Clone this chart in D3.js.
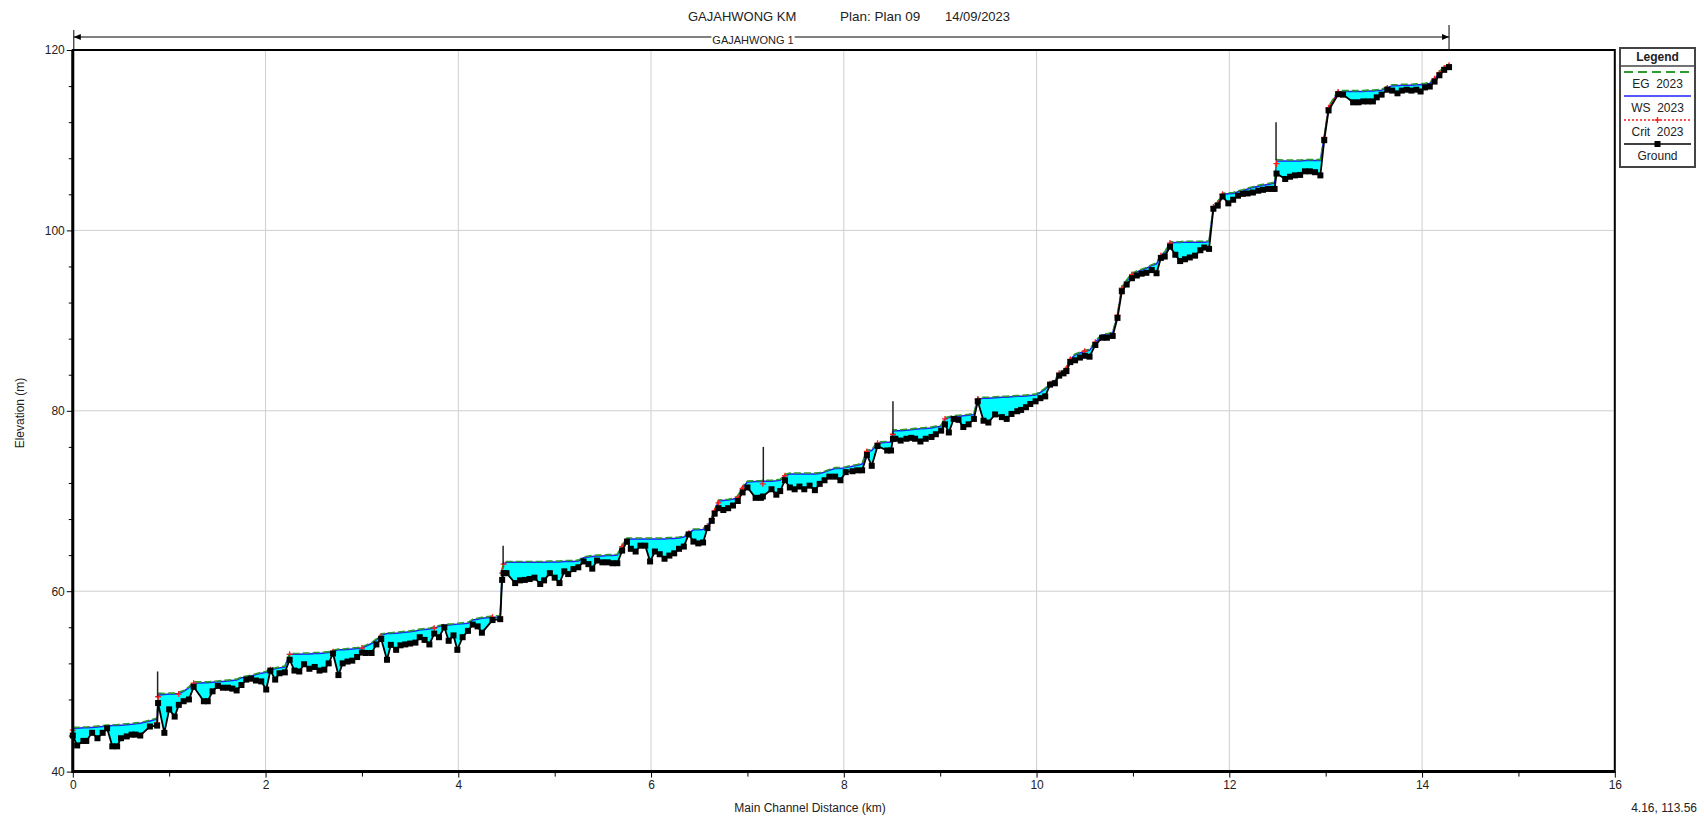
<!DOCTYPE html>
<html>
<head>
<meta charset="utf-8">
<script src="https://cdn.jsdelivr.net/npm/d3@7"></script>
<style>
  html, body { margin: 0; padding: 0; background: #fff; }
  svg { display: block; font-family: "Liberation Sans", Arial, sans-serif; }
</style>
</head>
<body>
<svg id="chart" width="1704" height="817"></svg>
<script>
// ---- Profile data: main channel distance (km) and elevations (m) ----
const station = [
  0.00,0.045,0.11,0.14,0.20,0.256,0.31,0.356,0.41,0.46,
  0.50,0.56,0.61,0.65,0.70,0.80,0.875,0.885,0.95,1.00,
  1.057,1.10,1.15,1.205,1.254,1.36,1.40,1.45,1.505,1.557,
  1.61,1.655,1.70,1.75,1.80,1.85,1.90,1.955,2.007,2.05,
  2.10,2.145,2.20,2.25,2.30,2.35,2.40,2.455,2.51,2.56,
  2.61,2.655,2.70,2.756,2.80,2.85,2.90,2.95,3.00,3.04,
  3.10,3.15,3.20,3.26,3.30,3.355,3.40,3.45,3.50,3.555,
  3.60,3.65,3.70,3.75,3.80,3.855,3.90,3.95,3.99,4.045,
  4.10,4.15,4.20,4.245,4.355,4.435,4.455,4.47,4.50,4.59,
  4.64,4.69,4.74,4.79,4.85,4.89,4.95,5.00,5.05,5.10,
  5.14,5.195,5.245,5.30,5.35,5.39,5.44,5.495,5.55,5.60,
  5.65,5.70,5.75,5.79,5.84,5.89,5.94,5.99,6.04,6.09,
  6.14,6.19,6.24,6.29,6.34,6.39,6.44,6.49,6.54,6.585,
  6.63,6.66,6.70,6.75,6.80,6.85,6.90,6.95,7.00,7.085,
  7.14,7.16,7.25,7.30,7.34,7.39,7.44,7.49,7.54,7.59,
  7.645,7.70,7.75,7.80,7.85,7.91,7.965,8.02,8.09,8.14,
  8.19,8.24,8.29,8.35,8.45,8.49,8.51,8.535,8.59,8.65,
  8.70,8.74,8.795,8.85,8.91,8.955,9.01,9.05,9.09,9.14,
  9.19,9.24,9.295,9.35,9.39,9.45,9.50,9.57,9.64,9.69,
  9.74,9.80,9.84,9.89,9.935,9.99,10.04,10.09,10.14,10.19,
  10.235,10.28,10.31,10.35,10.40,10.45,10.50,10.55,10.61,10.68,
  10.73,10.79,10.84,10.885,10.935,10.99,11.04,11.09,11.14,11.195,
  11.245,11.29,11.33,11.385,11.44,11.49,11.54,11.59,11.645,11.70,
  11.74,11.79,11.835,11.88,11.93,11.99,12.04,12.09,12.14,12.19,
  12.245,12.30,12.35,12.40,12.45,12.47,12.49,12.58,12.63,12.68,
  12.735,12.785,12.835,12.89,12.945,12.985,13.03,13.13,13.18,13.285,
  13.34,13.39,13.44,13.49,13.53,13.58,13.64,13.69,13.745,13.79,
  13.84,13.89,13.94,13.985,14.03,14.08,14.13,14.18,14.23,14.28
];

const ground = [
  44.0,42.9,43.4,43.4,44.3,43.7,44.3,44.8,42.8,42.8,
  43.7,43.9,44.1,44.1,44.0,45.0,45.1,47.6,44.3,46.9,
  46.1,47.4,47.8,48.0,49.4,47.8,47.8,48.9,49.5,49.3,
  49.3,49.2,49.0,49.6,50.2,50.3,50.1,50.0,49.1,51.2,
  50.2,50.9,51.0,52.4,51.2,51.1,51.9,51.4,51.6,51.2,
  51.3,52.0,53.1,50.7,52.0,52.2,52.3,52.7,53.2,53.15,
  53.15,54.1,54.7,52.4,54.05,53.5,54.0,54.1,54.2,54.3,
  54.9,54.6,54.1,55.3,54.9,56.0,54.5,55.1,53.5,54.9,
  55.6,56.3,56.1,55.4,56.8,56.9,61.25,62.0,62.0,60.9,
  61.2,61.25,61.35,61.5,60.8,61.2,62.0,61.5,60.9,62.2,
  61.9,62.45,62.65,63.3,63.0,62.5,63.4,63.2,63.2,63.1,
  63.1,64.5,65.5,64.7,64.4,65.05,65.05,63.3,64.4,64.1,
  63.6,63.95,64.2,64.7,64.95,66.3,65.5,65.3,65.4,67.0,
  67.8,68.6,69.2,69.0,69.2,69.5,70.0,70.95,71.5,70.35,
  70.35,70.5,71.3,70.7,71.1,72.3,71.5,71.3,71.6,71.3,
  71.7,71.2,71.9,72.3,72.7,72.7,72.3,73.2,73.3,73.4,
  73.4,75.1,73.9,76.1,75.6,75.6,76.9,76.9,76.7,76.9,
  77.0,76.9,76.6,76.9,77.1,77.4,77.8,78.5,77.6,79.1,
  79.0,78.2,78.5,79.1,81.05,78.9,78.7,79.6,79.3,79.1,
  79.65,79.95,80.1,80.4,80.75,81.05,81.4,81.6,82.9,83.05,
  83.9,84.15,84.4,85.4,85.6,85.9,86.1,86.0,87.3,88.1,
  88.1,88.3,90.3,93.25,94.0,94.7,95.0,95.2,95.3,95.6,
  95.25,96.95,97.1,98.2,97.3,96.6,96.8,97.0,97.2,97.8,
  98.1,97.95,102.4,102.75,103.75,103.0,103.4,103.85,104.05,104.1,
  104.2,104.4,104.5,104.6,104.6,104.6,106.3,105.7,105.95,106.1,
  106.15,106.55,106.55,106.45,106.1,110.0,113.3,115.1,115.05,114.2,
  114.2,114.3,114.3,114.3,114.75,115.05,115.6,115.5,115.2,115.5,
  115.6,115.5,115.6,115.4,115.85,115.95,116.5,117.2,117.8,118.1
];

const ws = [
  44.8,44.8,44.85,44.85,44.9,44.95,45.0,45.05,45.1,45.1,
  45.15,45.2,45.25,45.3,45.35,45.6,45.85,48.5,48.55,48.6,
  48.6,48.65,48.9,49.3,49.8,49.85,49.85,49.9,49.95,50.0,
  50.05,50.1,50.15,50.4,50.5,50.6,50.75,50.9,51.0,51.3,
  51.4,51.5,51.6,53.0,53.0,53.0,53.05,53.05,53.1,53.1,
  53.15,53.2,53.3,53.5,53.5,53.55,53.6,53.65,53.7,53.9,
  54.2,54.6,55.1,55.3,55.3,55.35,55.4,55.45,55.5,55.6,
  55.7,55.75,55.8,55.9,56.1,56.2,56.25,56.3,56.35,56.4,
  56.45,56.8,56.9,57.0,57.1,57.15,62.3,63.0,63.2,63.2,
  63.2,63.2,63.2,63.2,63.2,63.2,63.25,63.25,63.25,63.3,
  63.3,63.3,63.35,63.7,63.8,63.85,63.9,63.9,63.95,63.95,
  64.0,64.95,65.8,65.8,65.8,65.8,65.8,65.8,65.8,65.8,
  65.8,65.85,65.85,65.9,66.0,66.4,66.8,66.8,66.85,67.2,
  68.0,68.9,70.0,70.05,70.1,70.2,70.4,71.5,72.1,72.15,
  72.15,72.2,72.2,72.25,72.3,72.8,73.0,73.0,73.0,73.0,
  73.0,73.0,73.05,73.2,73.4,73.6,73.6,73.7,73.85,73.95,
  74.1,75.5,75.6,76.4,76.5,76.5,77.7,77.8,77.8,77.85,
  77.9,77.95,78.0,78.05,78.1,78.2,78.3,79.1,79.25,79.35,
  79.4,79.45,79.5,79.6,81.3,81.4,81.4,81.45,81.5,81.5,
  81.55,81.6,81.6,81.65,81.7,81.75,82.05,82.4,83.0,83.3,
  84.15,84.4,84.7,85.7,86.2,86.4,86.6,86.7,87.6,88.4,
  88.45,88.6,90.6,93.6,94.4,95.1,95.4,95.6,95.8,96.1,
  96.3,97.2,97.5,98.6,98.65,98.65,98.7,98.7,98.7,98.7,
  98.7,98.75,102.6,103.0,104.0,104.05,104.1,104.3,104.4,104.6,
  104.75,104.9,105.0,105.1,105.2,105.25,107.7,107.7,107.7,107.7,
  107.7,107.75,107.75,107.75,107.75,110.3,113.6,115.35,115.4,115.4,
  115.4,115.4,115.45,115.45,115.5,115.55,115.8,116.05,116.05,116.1,
  116.1,116.1,116.15,116.15,116.2,116.3,116.8,117.45,118.0,118.3
];

const eg = [
  44.9,44.9,44.95,44.95,45.0,45.05,45.1,45.15,45.2,45.2,
  45.25,45.3,45.35,45.4,45.45,45.7,45.95,48.7,48.65,48.7,
  48.7,48.8,49.0,49.4,49.95,49.95,49.95,50.0,50.05,50.1,
  50.15,50.2,50.25,50.5,50.6,50.7,50.85,51.0,51.1,51.45,
  51.5,51.6,51.7,53.15,53.1,53.1,53.15,53.15,53.2,53.2,
  53.25,53.3,53.45,53.6,53.6,53.65,53.7,53.75,53.85,54.0,
  54.3,54.7,55.25,55.4,55.4,55.45,55.5,55.55,55.6,55.7,
  55.8,55.85,55.9,56.05,56.2,56.3,56.35,56.4,56.45,56.5,
  56.55,56.9,57.0,57.1,57.25,57.3,62.5,63.2,63.3,63.3,
  63.3,63.3,63.3,63.3,63.3,63.3,63.35,63.35,63.35,63.4,
  63.4,63.4,63.45,63.8,63.9,63.95,64.0,64.0,64.05,64.05,
  64.1,65.1,65.9,65.9,65.9,65.9,65.9,65.9,65.9,65.9,
  65.9,65.95,65.95,66.0,66.1,66.55,66.9,66.9,66.95,67.35,
  68.15,69.05,70.1,70.15,70.2,70.3,70.55,71.65,72.2,72.25,
  72.25,72.3,72.3,72.35,72.4,72.95,73.1,73.1,73.1,73.1,
  73.1,73.1,73.15,73.3,73.5,73.7,73.7,73.8,73.95,74.05,
  74.2,75.65,75.7,76.55,76.6,76.6,77.85,77.9,77.9,77.95,
  78.0,78.05,78.1,78.15,78.2,78.3,78.4,79.25,79.35,79.45,
  79.5,79.55,79.6,79.7,81.45,81.5,81.5,81.55,81.6,81.6,
  81.65,81.7,81.7,81.75,81.8,81.85,82.15,82.5,83.15,83.4,
  84.3,84.5,84.85,85.85,86.3,86.5,86.75,86.8,87.75,88.5,
  88.55,88.7,90.75,93.75,94.5,95.25,95.5,95.7,95.9,96.2,
  96.4,97.35,97.6,98.75,98.75,98.75,98.8,98.8,98.8,98.8,
  98.8,98.85,102.75,103.15,104.15,104.15,104.2,104.4,104.5,104.7,
  104.85,105.0,105.1,105.2,105.3,105.35,107.85,107.8,107.8,107.8,
  107.8,107.85,107.85,107.85,107.85,110.45,113.75,115.5,115.5,115.5,
  115.5,115.5,115.55,115.55,115.6,115.65,115.95,116.15,116.15,116.2,
  116.2,116.2,116.25,116.25,116.3,116.4,116.95,117.6,118.15,118.45
];

// critical depth elevation, only where flow passes through critical
const crit = [
  44.6,null,null,null,null,null,null,null,null,null,
  null,null,null,null,null,null,45.4,48.3,null,null,
  null,48.6,null,null,49.8,null,null,null,null,null,
  null,null,null,null,null,null,null,null,null,51.3,
  null,null,null,53.0,null,null,null,null,null,null,
  null,null,53.3,null,null,null,null,null,53.7,null,
  null,null,55.0,null,null,null,null,null,null,null,
  null,null,null,55.9,null,null,null,null,null,null,
  null,null,null,null,57.1,null,62.0,63.0,null,null,
  null,null,null,null,null,null,null,null,null,null,
  null,null,null,null,null,null,null,null,null,null,
  null,64.95,null,null,null,null,null,null,null,null,
  null,null,null,null,null,66.4,null,null,null,67.2,
  68.0,68.9,69.8,null,null,null,70.4,71.4,null,null,
  null,71.9,null,null,null,72.8,null,null,null,null,
  null,null,null,null,null,null,null,null,null,null,
  null,75.5,null,76.4,null,null,77.4,null,null,null,
  null,null,null,null,null,null,null,79.1,null,null,
  null,null,null,null,81.3,null,null,null,null,null,
  null,null,null,null,null,null,null,null,83.0,null,
  84.15,null,84.7,85.7,null,null,86.6,null,87.6,null,
  null,null,90.6,93.6,null,95.1,null,null,null,null,
  null,97.2,null,98.6,null,null,null,null,null,null,
  null,null,102.6,103.0,104.0,null,null,null,null,null,
  null,null,null,null,null,null,107.4,null,null,null,
  null,null,null,null,null,110.3,113.6,115.35,null,null,
  null,null,null,null,null,null,115.8,null,null,null,
  null,null,null,null,null,null,116.8,117.45,118.0,118.3
];

// bridge decks: station, low chord, high chord
const deckStation = [0.88, 4.465, 7.165, 8.51, 12.485];
const deckLow     = [48.3, 63.0, 72.1, 77.4, 107.75];
const deckHigh    = [51.1, 65.05, 76.0, 81.05, 112.0];

// axis ticks
const xMajor = [0, 2, 4, 6, 8, 10, 12, 14, 16];
const xMinor = [1, 3, 5, 7, 9, 11, 13, 15];
const yMajor = [40, 60, 80, 100, 120];
const yMinor = [44, 48, 52, 56, 64, 68, 72, 76, 84, 88, 92, 96, 104, 108, 112, 116];

const reachStart = 0, reachEnd = 14.28;
const legendItems = ["EG  2023", "WS  2023", "Crit  2023", "Ground"];

// ---- layout ----
const plot = { left: 72.8, right: 1614.8, top: 50, bottom: 771.6 };
const x = d3.scaleLinear().domain([0, 16]).range([plot.left, plot.right]);
const y = d3.scaleLinear().domain([40, 120]).range([plot.bottom, plot.top]);
const svg = d3.select("#chart");

const C = { eg: "#2f9a2f", ws: "#1f1fff", crit: "#ff1a1a", ground: "#000", fill: "#00ffff", grid: "#cfcfcf", text: "#222" };

// grid
svg.append("g").selectAll("line").data(xMajor.filter(d => d > 0 && d < 16)).join("line")
  .attr("x1", d => x(d)).attr("x2", d => x(d))
  .attr("y1", plot.top).attr("y2", plot.bottom)
  .attr("stroke", C.grid).attr("stroke-width", 1);
svg.append("g").selectAll("line").data(yMajor.filter(d => d > 40 && d < 120)).join("line")
  .attr("x1", plot.left).attr("x2", plot.right)
  .attr("y1", d => y(d)).attr("y2", d => y(d))
  .attr("stroke", C.grid).attr("stroke-width", 1);

// axes
function styleAxis(g) {
  g.select(".domain").remove();
  g.selectAll(".tick line").attr("stroke", "#000");
  g.selectAll(".tick text").attr("fill", C.text).style("font-size", "12px")
    .style("font-family", '"Liberation Sans", Arial, sans-serif');
}
svg.append("g").attr("transform", `translate(0,${plot.bottom})`)
  .call(d3.axisBottom(x).tickValues(xMajor).tickSize(6).tickPadding(3).tickFormat(d3.format("d")))
  .call(styleAxis);
svg.append("g").attr("transform", `translate(0,${plot.bottom})`)
  .call(d3.axisBottom(x).tickValues(xMinor).tickSize(5).tickFormat(""))
  .call(styleAxis);
svg.append("g").attr("transform", `translate(${plot.left},0)`)
  .call(d3.axisLeft(y).tickValues(yMajor).tickSize(6).tickPadding(2).tickFormat(d3.format("d")))
  .call(styleAxis);
svg.append("g").attr("transform", `translate(${plot.left},0)`)
  .call(d3.axisLeft(y).tickValues(yMinor).tickSize(4).tickFormat(""))
  .call(styleAxis);

// profile
const rows = station.map((s, i) => ({ s, g: ground[i], w: ws[i], e: eg[i], c: crit[i] }));

svg.append("path").datum(rows)
  .attr("d", d3.area().x(d => x(d.s)).y0(d => y(d.g)).y1(d => y(d.w)))
  .attr("fill", C.fill);

svg.append("path").datum(rows)
  .attr("d", d3.line().x(d => x(d.s)).y(d => y(d.w)))
  .attr("fill", "none").attr("stroke", C.ws).attr("stroke-width", 1.5);

svg.append("path").datum(rows)
  .attr("d", d3.line().x(d => x(d.s)).y(d => y(d.e)))
  .attr("fill", "none").attr("stroke", C.eg).attr("stroke-width", 1.6)
  .attr("stroke-dasharray", "7,3");

svg.append("path").datum(rows)
  .attr("d", d3.line().defined(d => d.c != null).x(d => x(d.s)).y(d => y(d.c)))
  .attr("fill", "none").attr("stroke", C.crit).attr("stroke-width", 1.3)
  .attr("stroke-dasharray", "2,2");

const critPts = rows.filter(d => d.c != null);
svg.append("g").selectAll("path").data(critPts).join("path")
  .attr("d", d => `M${x(d.s) - 3},${y(d.c)}h6M${x(d.s)},${y(d.c) - 3}v6`)
  .attr("stroke", C.crit).attr("stroke-width", 1.3);

// bridge decks
svg.append("g").selectAll("line").data(deckStation).join("line")
  .attr("x1", d => x(d)).attr("x2", d => x(d))
  .attr("y1", (d, i) => y(deckLow[i])).attr("y2", (d, i) => y(deckHigh[i]))
  .attr("stroke", "#222").attr("stroke-width", 1.5);

svg.append("path").datum(rows)
  .attr("d", d3.line().x(d => x(d.s)).y(d => y(d.g)))
  .attr("fill", "none").attr("stroke", C.ground).attr("stroke-width", 1.8);

svg.append("g").selectAll("rect").data(rows).join("rect")
  .attr("x", d => x(d.s) - 3).attr("y", d => y(d.g) - 3)
  .attr("width", 6).attr("height", 6).attr("fill", C.ground);

// frame
svg.append("rect").attr("x", plot.left).attr("y", plot.top)
  .attr("width", plot.right - plot.left).attr("height", plot.bottom - plot.top)
  .attr("fill", "none").attr("stroke", "#000").attr("stroke-width", 2);
svg.append("line").attr("x1", plot.left).attr("x2", plot.left).attr("y1", plot.top).attr("y2", plot.bottom + 1.5)
  .attr("stroke", "#000").attr("stroke-width", 3);
svg.append("line").attr("x1", plot.left).attr("x2", plot.right).attr("y1", plot.bottom).attr("y2", plot.bottom)
  .attr("stroke", "#000").attr("stroke-width", 3);

// title
const title = svg.append("g").attr("fill", C.text).style("font-size", "13px");
title.append("text").attr("x", 688).attr("y", 21).text("GAJAHWONG KM");
title.append("text").attr("x", 840).attr("y", 21).style("font-size", "13.5px").text("Plan: Plan 09");
title.append("text").attr("x", 945).attr("y", 21).text("14/09/2023");

// reach extent
const ry = 37, rx0 = x(reachStart) + 1, rx1 = x(reachEnd);
const reach = svg.append("g");
reach.append("line").attr("x1", rx0).attr("x2", rx1).attr("y1", ry).attr("y2", ry)
  .attr("stroke", "#000").attr("stroke-width", 1);
reach.append("path").attr("d", `M${rx0},${ry}l7,-3v6z`).attr("fill", "#000");
reach.append("path").attr("d", `M${rx1},${ry}l-7,-3v6z`).attr("fill", "#000");
reach.append("line").attr("x1", rx0).attr("x2", rx0).attr("y1", 30).attr("y2", plot.top)
  .attr("stroke", "#000").attr("stroke-width", 1);
reach.append("line").attr("x1", rx1).attr("x2", rx1).attr("y1", 25).attr("y2", plot.top)
  .attr("stroke", "#000").attr("stroke-width", 1);
const rLabel = reach.append("text").attr("x", 753).attr("y", 44).attr("text-anchor", "middle")
  .style("font-size", "11px").attr("fill", C.text).text("GAJAHWONG 1");
const bb = rLabel.node().getBBox();
reach.insert("rect", "text").attr("x", bb.x - 1).attr("y", bb.y + 1)
  .attr("width", bb.width + 2).attr("height", bb.height - 2).attr("fill", "#fff");

// axis titles
svg.append("text").attr("x", 810).attr("y", 812).attr("text-anchor", "middle")
  .style("font-size", "12px").attr("fill", C.text).text("Main Channel Distance (km)");
svg.append("text").attr("transform", "translate(24,413) rotate(-90)").attr("text-anchor", "middle")
  .style("font-size", "12px").attr("fill", C.text).text("Elevation (m)");
svg.append("text").attr("x", 1697).attr("y", 812).attr("text-anchor", "end")
  .style("font-size", "12px").attr("fill", C.text).text("4.16, 113.56");

// legend
const L = { x: 1620, y: 48, w: 75, h: 119 };
const lg = svg.append("g");
lg.append("rect").attr("x", L.x).attr("y", L.y).attr("width", L.w).attr("height", L.h)
  .attr("fill", "#fff").attr("stroke", "#444").attr("stroke-width", 2);
lg.append("text").attr("x", L.x + L.w / 2).attr("y", L.y + 13).attr("text-anchor", "middle")
  .style("font-size", "12px").style("font-weight", "bold").attr("fill", C.text).text("Legend");
lg.append("line").attr("x1", L.x).attr("x2", L.x + L.w).attr("y1", L.y + 18).attr("y2", L.y + 18)
  .attr("stroke", "#444").attr("stroke-width", 1.5);
const sx0 = L.x + 4, sx1 = L.x + L.w - 4, cx = L.x + L.w / 2;
const rowY = [72, 96, 120, 144];
lg.append("line").attr("x1", sx0).attr("x2", sx1).attr("y1", rowY[0]).attr("y2", rowY[0])
  .attr("stroke", C.eg).attr("stroke-width", 2).attr("stroke-dasharray", "9,5");
lg.append("line").attr("x1", sx0).attr("x2", sx1).attr("y1", rowY[1]).attr("y2", rowY[1])
  .attr("stroke", C.ws).attr("stroke-width", 1.5);
lg.append("line").attr("x1", sx0).attr("x2", sx1).attr("y1", rowY[2]).attr("y2", rowY[2])
  .attr("stroke", C.crit).attr("stroke-width", 1.5).attr("stroke-dasharray", "2,2");
lg.append("path").attr("d", `M${cx - 3},${rowY[2]}h6M${cx},${rowY[2] - 3}v6`)
  .attr("stroke", C.crit).attr("stroke-width", 1.3);
lg.append("line").attr("x1", sx0).attr("x2", sx1).attr("y1", rowY[3]).attr("y2", rowY[3])
  .attr("stroke", "#000").attr("stroke-width", 1.5);
lg.append("rect").attr("x", cx - 3).attr("y", rowY[3] - 3).attr("width", 6).attr("height", 6).attr("fill", "#000");
lg.selectAll("text.item").data(legendItems).join("text").attr("class", "item")
  .attr("x", cx).attr("y", (d, i) => rowY[i] + 16).attr("text-anchor", "middle")
  .attr("xml:space", "preserve").style("white-space", "pre")
  .style("font-size", "12px").attr("fill", C.text).text(d => d);
</script>
</body>
</html>
